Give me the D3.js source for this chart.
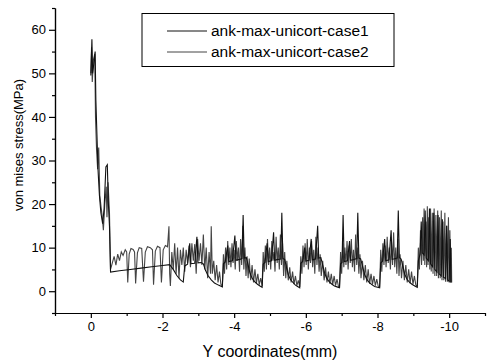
<!DOCTYPE html>
<html>
<head>
<meta charset="utf-8">
<script src="https://cdn.jsdelivr.net/npm/d3@7"></script>
<style>
    body { margin: 0; background: #fff; }
    text { font-family: Arial, "Liberation Sans", sans-serif; fill: #000; }
</style>
</head>
<body>
<div id="chart"></div>
<script>
const width = 491,
    height = 363;

const seriesNames = ["ank-max-unicort-case1", "ank-max-unicort-case2"]
const seriesColors = ["#111111", "#444444"]

const xTicks = [0, -2, -4, -6, -8, -10]
const xTickLabels = ["0", "-2", "-4", "-6", "-8", "-10"]
const xMinorTicks = [1, -1, -3, -5, -7, -9, -11]
const yTicks = [0, 10, 20, 30, 40, 50, 60]
const yMinorTicks = [-5, 5, 15, 25, 35, 45, 55, 65]

// [Y coordinate (mm), von mises stress (MPa)]
const case1 = [
    [0, 49.5], [-0.03, 57.8], [-0.05, 50], [-0.08, 52], [-0.12, 55], [-0.14, 44], [-0.17, 36],
    [-0.2, 28], [-0.24, 22], [-0.28, 18], [-0.33, 15.5], [-0.37, 19], [-0.42, 28.5], [-0.46, 29],
    [-0.49, 20], [-0.52, 15], [-0.55, 4.4],
    [-0.8, 4.7], [-1.1, 5.0], [-1.4, 5.3], [-1.7, 5.6], [-2.0, 5.9], [-2.2, 6.1],
    [-2.3, 5.0], [-2.4, 3.6], [-2.5, 2.6], [-2.58, 2.1],
    [-2.62, 5.8], [-2.7, 6.2], [-2.76, 11], [-2.79, 6.3], [-2.9, 6.4], [-2.96, 12.5], [-2.99, 6.5],
    [-3.08, 6.6], [-3.14, 6.3], [-3.2, 4.8], [-3.27, 3.6], [-3.36, 2.6], [-3.45, 1.9], [-3.56, 1.4], [-3.67, 1.0],
    [-3.7, 6.3], [-3.75, 6.7], [-3.82, 10.5], [-3.85, 6.8], [-3.95, 7.0], [-4.02, 12.8], [-4.05, 7.1],
    [-4.15, 7.3], [-4.22, 7.5], [-4.25, 17.5], [-4.28, 7.6], [-4.34, 7.7], [-4.39, 6.0], [-4.44, 4.2],
    [-4.5, 3.0], [-4.57, 2.2], [-4.65, 1.6], [-4.72, 1.2], [-4.78, 0.9],
    [-4.81, 6.2], [-4.86, 6.6], [-4.92, 11], [-4.95, 6.8], [-5.04, 7.0], [-5.1, 13.5], [-5.13, 7.1],
    [-5.22, 7.3], [-5.3, 7.4], [-5.33, 18], [-5.36, 7.5], [-5.41, 7.3], [-5.46, 5.5], [-5.51, 3.8],
    [-5.57, 2.7], [-5.64, 2.0], [-5.71, 1.4], [-5.77, 1.1], [-5.83, 0.8],
    [-5.86, 6.4], [-5.91, 6.8], [-5.97, 10], [-6.0, 6.9], [-6.09, 7.1], [-6.15, 12], [-6.18, 7.2],
    [-6.27, 7.4], [-6.33, 15], [-6.36, 7.6], [-6.42, 7.7], [-6.47, 6.0], [-6.52, 4.3], [-6.58, 3.0],
    [-6.65, 2.2], [-6.73, 1.6], [-6.8, 1.2], [-6.87, 1.0], [-6.94, 0.8],
    [-6.97, 6.3], [-7.01, 6.6], [-7.04, 17.5], [-7.07, 6.8], [-7.16, 7.0], [-7.22, 11.5], [-7.25, 7.1],
    [-7.34, 7.3], [-7.42, 7.5], [-7.45, 18], [-7.48, 7.6], [-7.53, 7.4], [-7.58, 5.8], [-7.63, 4.1],
    [-7.69, 2.9], [-7.76, 2.1], [-7.84, 1.5], [-7.92, 1.1], [-8.0, 0.9], [-8.06, 0.8],
    [-8.09, 6.5], [-8.14, 6.9], [-8.2, 12], [-8.23, 7.0], [-8.32, 7.2], [-8.38, 14], [-8.41, 7.3],
    [-8.5, 7.5], [-8.55, 7.6], [-8.58, 18.5], [-8.61, 7.7], [-8.66, 7.4], [-8.71, 5.6], [-8.76, 3.9],
    [-8.82, 2.8], [-8.89, 2.1], [-8.96, 1.6], [-9.04, 1.2], [-9.11, 0.9],
    [-9.14, 7], [-9.19, 8.5], [-9.22, 16], [-9.25, 8.8], [-9.3, 8.3], [-9.33, 18.5], [-9.36, 7.6],
    [-9.42, 7.0], [-9.45, 19], [-9.48, 6.3], [-9.54, 5.6], [-9.57, 18], [-9.6, 5.0], [-9.66, 4.4],
    [-9.69, 17.5], [-9.72, 4.0], [-9.78, 3.5], [-9.81, 16.5], [-9.84, 3.2], [-9.9, 2.9], [-9.93, 15],
    [-9.96, 2.6], [-10.0, 2.3], [-10.03, 12], [-10.05, 2.0]
]

const case2 = [
    [0, 50], [-0.02, 56], [-0.04, 48], [-0.07, 53], [-0.11, 54.5], [-0.13, 40], [-0.16, 32.5],
    [-0.19, 28], [-0.22, 33], [-0.25, 22], [-0.29, 19], [-0.32, 17], [-0.35, 14], [-0.39, 20],
    [-0.43, 24], [-0.45, 17], [-0.48, 25], [-0.52, 18], [-0.55, 5],
    [-0.6, 6.5], [-0.65, 8], [-0.7, 6], [-0.75, 8.5], [-0.8, 7], [-0.85, 9], [-0.9, 8.2], [-0.96, 9.5],
    [-1.0, 9], [-1.03, 2], [-1.07, 8.5], [-1.12, 9.8], [-1.18, 9.6], [-1.22, 9], [-1.25, 1.8],
    [-1.3, 8.8], [-1.35, 10], [-1.42, 9.8], [-1.47, 2.2], [-1.52, 9], [-1.58, 10.2], [-1.66, 10],
    [-1.72, 9.5], [-1.75, 1.5], [-1.8, 9.2], [-1.86, 10.3], [-1.93, 10], [-1.97, 2], [-2.02, 9.5],
    [-2.08, 10.5], [-2.14, 10.2], [-2.18, 14.9], [-2.2, 4], [-2.22, 1.2],
    [-2.26, 9], [-2.3, 5], [-2.34, 11], [-2.38, 4], [-2.42, 10], [-2.46, 3], [-2.5, 9.5], [-2.54, 6],
    [-2.58, 10], [-2.62, 4.5], [-2.66, 9.5], [-2.7, 6.5], [-2.74, 10.5], [-2.78, 5.5], [-2.82, 11],
    [-2.86, 7], [-2.9, 10.8], [-2.94, 4], [-2.98, 12], [-3.02, 7], [-3.06, 11], [-3.1, 6], [-3.14, 13],
    [-3.18, 5], [-3.22, 10], [-3.26, 3], [-3.3, 9], [-3.34, 4], [-3.36, 14.9], [-3.39, 4], [-3.43, 7],
    [-3.47, 2.5], [-3.51, 6], [-3.55, 2], [-3.59, 4.5], [-3.63, 1.6], [-3.67, 1.2],
    [-3.7, 8.5], [-3.73, 4], [-3.76, 10], [-3.79, 5], [-3.82, 11.5], [-3.85, 6], [-3.88, 10],
    [-3.91, 5.5], [-3.94, 11], [-3.97, 6.5], [-4.0, 9.5], [-4.03, 5], [-4.06, 11.5], [-4.09, 7],
    [-4.12, 10], [-4.15, 4.5], [-4.18, 12], [-4.21, 6], [-4.24, 15], [-4.27, 5], [-4.3, 10],
    [-4.33, 3.5], [-4.36, 8], [-4.39, 3], [-4.42, 7.5], [-4.46, 2.5], [-4.5, 6], [-4.54, 2], [-4.58, 5],
    [-4.62, 1.8], [-4.66, 4], [-4.7, 1.5], [-4.74, 3], [-4.78, 1.2],
    [-4.81, 9], [-4.84, 4.5], [-4.87, 10.5], [-4.9, 5], [-4.93, 12], [-4.96, 6], [-4.99, 10], [-5.02, 5],
    [-5.05, 11.5], [-5.08, 7], [-5.11, 9], [-5.14, 4.5], [-5.17, 12.5], [-5.2, 6.5], [-5.23, 10],
    [-5.26, 5], [-5.29, 13], [-5.32, 6], [-5.35, 11], [-5.38, 3.5], [-5.41, 9], [-5.44, 3], [-5.47, 7],
    [-5.51, 2.5], [-5.55, 5.5], [-5.59, 2], [-5.63, 4.5], [-5.67, 1.6], [-5.71, 3.5], [-5.75, 1.3],
    [-5.79, 2.5], [-5.83, 1],
    [-5.86, 8], [-5.89, 4], [-5.92, 10.5], [-5.95, 5.5], [-5.98, 11], [-6.01, 6], [-6.04, 12], [-6.07, 5],
    [-6.1, 10], [-6.13, 6.5], [-6.16, 11.5], [-6.19, 5.5], [-6.22, 9.5], [-6.25, 4], [-6.28, 12.5],
    [-6.31, 6], [-6.34, 10], [-6.37, 4.5], [-6.4, 8.5], [-6.43, 3.5], [-6.47, 7], [-6.51, 2.5],
    [-6.55, 5.5], [-6.59, 2], [-6.63, 4.5], [-6.67, 1.7], [-6.71, 4], [-6.75, 1.5], [-6.79, 3.5],
    [-6.83, 1.3], [-6.87, 2.8], [-6.91, 1.1], [-6.94, 1],
    [-6.97, 9], [-7.0, 4], [-7.03, 11], [-7.06, 5.5], [-7.09, 10], [-7.12, 6], [-7.15, 11.5], [-7.18, 5],
    [-7.21, 10.5], [-7.24, 6.5], [-7.27, 12], [-7.3, 5.5], [-7.33, 9.5], [-7.36, 4.5], [-7.39, 13],
    [-7.42, 6], [-7.45, 10], [-7.48, 4], [-7.51, 8.5], [-7.54, 3], [-7.58, 7], [-7.62, 2.5], [-7.66, 6],
    [-7.7, 2], [-7.74, 5], [-7.78, 1.7], [-7.82, 4], [-7.86, 1.5], [-7.9, 3.5], [-7.94, 1.3],
    [-7.98, 2.8], [-8.02, 1.1], [-8.06, 1],
    [-8.09, 9.5], [-8.12, 4.5], [-8.15, 11], [-8.18, 6], [-8.21, 10.5], [-8.24, 5.5], [-8.27, 12.5],
    [-8.3, 6.5], [-8.33, 10], [-8.36, 5], [-8.39, 11.5], [-8.42, 6], [-8.45, 13.5], [-8.48, 5.5],
    [-8.51, 10], [-8.54, 4], [-8.57, 12], [-8.6, 3.5], [-8.63, 8.5], [-8.67, 3], [-8.71, 7], [-8.75, 2.5],
    [-8.79, 6], [-8.83, 2], [-8.87, 5], [-8.91, 1.8], [-8.95, 4.5], [-8.99, 1.6], [-9.03, 3.5],
    [-9.07, 1.4], [-9.11, 1.2],
    [-9.14, 10], [-9.17, 5], [-9.2, 14], [-9.23, 6], [-9.26, 17], [-9.28, 7], [-9.3, 19], [-9.32, 6],
    [-9.35, 16], [-9.37, 5.5], [-9.39, 19.5], [-9.41, 6], [-9.43, 17], [-9.46, 5], [-9.48, 19],
    [-9.5, 4.5], [-9.53, 18], [-9.55, 4], [-9.58, 19], [-9.6, 3.5], [-9.63, 17.5], [-9.65, 3.5],
    [-9.68, 18.5], [-9.7, 3], [-9.73, 17], [-9.75, 3], [-9.78, 18.5], [-9.8, 2.5], [-9.83, 16],
    [-9.85, 2.5], [-9.88, 18], [-9.9, 2.2], [-9.93, 15], [-9.95, 2.2], [-9.98, 17], [-10.0, 2],
    [-10.02, 14], [-10.04, 2], [-10.06, 10], [-10.07, 2]
]

const svg = d3.select("#chart")
    .append("svg")
    .attr("width", width)
    .attr("height", height)

const x = d3.scaleLinear()
    .domain([1, -11])
    .range([55, 485])

const y = d3.scaleLinear()
    .domain([-5, 65])
    .range([313, 8])

// lines first, axes over them
const line = d3.line()
    .x(function(d) { return x(d[0]) })
    .y(function(d) { return y(d[1]) })

svg.selectAll(null)
    .data([case2, case1])
    .join("path")
    .attr("d", line)
    .attr("fill", "none")
    .attr("stroke", function(d, i) { return i == 0 ? seriesColors[1] : seriesColors[0] })
    .attr("stroke-width", 1.1)
    .attr("stroke-linejoin", "miter")

// minor ticks
svg.append("g")
    .attr("transform", "translate(55,0)")
    .call(d3.axisLeft(y).tickValues(yMinorTicks).tickSize(3).tickSizeOuter(0).tickFormat(""))
svg.append("g")
    .attr("transform", "translate(0,313)")
    .call(d3.axisBottom(x).tickValues(xMinorTicks).tickSize(3).tickSizeOuter(0).tickFormat(""))

// major ticks
const yAxis = svg.append("g")
    .attr("transform", "translate(55,0)")
    .call(d3.axisLeft(y).tickValues(yTicks).tickSize(6).tickSizeOuter(0).tickPadding(3)
        .tickFormat(function(d) { return String(d) }))

const xAxis = svg.append("g")
    .attr("transform", "translate(0,313)")
    .call(d3.axisBottom(x).tickValues(xTicks).tickSize(5).tickSizeOuter(0).tickPadding(4)
        .tickFormat(function(d, i) { return xTickLabels[i] }))

svg.selectAll(".tick text")
    .style("font-size", "13px")
    .style("font-family", "Arial, 'Liberation Sans', sans-serif")
svg.selectAll(".domain, .tick line")
    .attr("stroke", "#000")
    .attr("stroke-width", 1.2)

svg.append("text")
    .attr("transform", "translate(23,145) rotate(-90)")
    .attr("text-anchor", "middle")
    .style("font-size", "13px")
    .text("von mises stress(MPa)")

svg.append("text")
    .attr("x", 270)
    .attr("y", 357)
    .attr("text-anchor", "middle")
    .style("font-size", "16px")
    .text("Y coordinates(mm)")

// legend
const legend = svg.append("g")

legend.append("rect")
    .attr("x", 142)
    .attr("y", 13.5)
    .attr("width", 252)
    .attr("height", 53)
    .attr("fill", "#fff")
    .attr("stroke", "#000")
    .attr("stroke-width", 1)

legend.selectAll(null)
    .data(seriesNames)
    .join("line")
    .attr("x1", 167)
    .attr("x2", 207)
    .attr("y1", function(d, i) { return 31 + i * 21 })
    .attr("y2", function(d, i) { return 31 + i * 21 })
    .attr("stroke", function(d, i) { return seriesColors[i] })
    .attr("stroke-width", 1)

legend.selectAll(null)
    .data(seriesNames)
    .join("text")
    .attr("x", 211)
    .attr("y", function(d, i) { return 36 + i * 21 })
    .style("font-size", "15.5px")
    .text(function(d) { return d })
</script>
</body>
</html>
